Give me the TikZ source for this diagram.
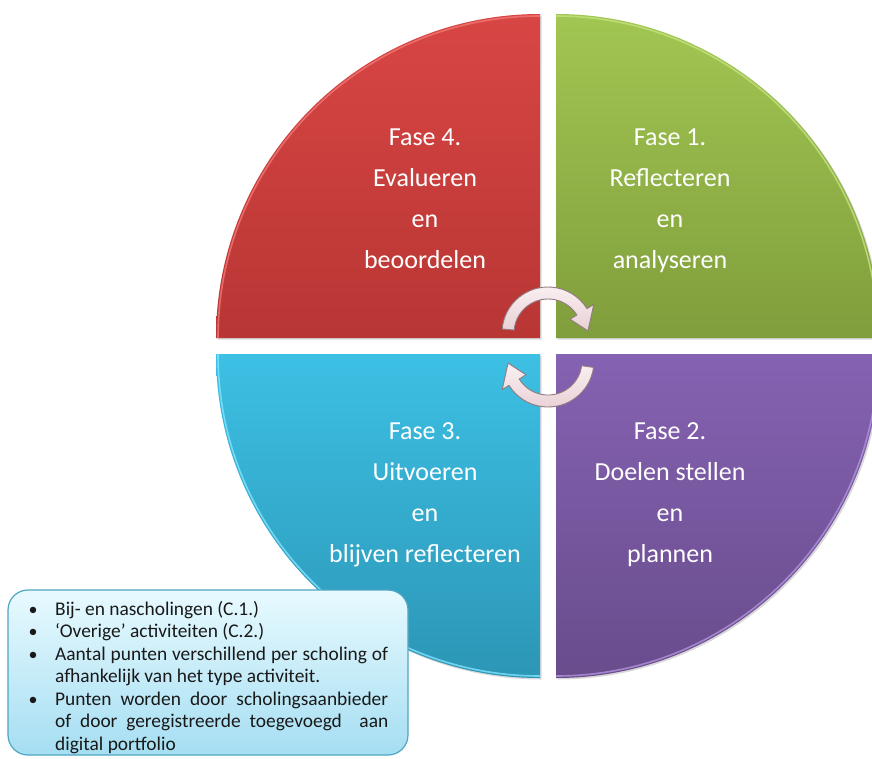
\documentclass[tikz,border=0pt]{standalone}
\usepackage{fontspec}
\setmainfont{Carlito}
\usetikzlibrary{shadows,calc}
\definecolor{redT}{RGB}{216,70,68}
\definecolor{redB}{RGB}{184,54,52}
\definecolor{redH}{RGB}{240,120,118}
\definecolor{grnT}{RGB}{162,198,82}
\definecolor{grnB}{RGB}{128,158,60}
\definecolor{grnH}{RGB}{196,226,128}
\definecolor{purT}{RGB}{134,98,178}
\definecolor{purB}{RGB}{104,76,140}
\definecolor{purH}{RGB}{178,148,220}
\definecolor{cyaT}{RGB}{60,192,228}
\definecolor{cyaB}{RGB}{44,150,182}
\definecolor{cyaH}{RGB}{130,228,252}
\definecolor{arrF}{RGB}{232,208,213}
\definecolor{arrL}{RGB}{250,240,242}
\definecolor{arrD}{RGB}{145,122,128}
\definecolor{boxT}{RGB}{232,250,255}
\definecolor{boxB}{RGB}{165,222,242}
\definecolor{boxD}{RGB}{80,165,195}
\definecolor{txtD}{RGB}{25,25,25}
\begin{document}
\begin{tikzpicture}[x=1pt,y=-1pt,
  quad/.style={draw=none, drop shadow={opacity=0.3, shadow xshift=1.5pt, shadow yshift=-1.5pt}},
  hilite/.style={line width=1.6pt, opacity=0.8},
  phase/.style={text=white, font=\fontsize{26}{30}\selectfont, anchor=base, inner sep=0pt},
  arrowshape/.style={top color=arrL, bottom color=arrF, draw=arrD, line width=0.9pt, line join=round},
  infobox/.style={rounded corners=20pt, top color=boxT, bottom color=boxB, draw=boxD, line width=1.2pt},
  btxt/.style={text=txtD, font=\fontsize{19.4}{22}\selectfont, anchor=base west, inner sep=0pt},
  bdot/.style={text=txtD, font=\fontsize{18}{22}\selectfont, anchor=base, inner sep=0pt}
]
\useasboundingbox (0,0) rectangle (872,758);
\clip (0,0) rectangle (872,758);
\fill[white] (0,0) rectangle (872,758);

% quadrants
\path[quad, top color=redT, bottom color=redB] (540,338) -- (216,338) arc[start angle=180, end angle=270, radius=324] -- cycle;
\path[quad, top color=grnT, bottom color=grnB] (556,338) -- (556,14) arc[start angle=270, end angle=360, radius=324] -- cycle;
\path[quad, top color=purT, bottom color=purB] (556,354) -- (880,354) arc[start angle=0, end angle=90, radius=324] -- cycle;
\path[quad, top color=cyaT, bottom color=cyaB] (540,354) -- (540,678) arc[start angle=90, end angle=180, radius=324] -- cycle;

% bevel highlights
\draw[hilite, redH] (218,338) arc[start angle=180, end angle=270, radius=322];
\draw[hilite, grnH] (556,16) arc[start angle=270, end angle=360, radius=322];
\draw[hilite, purH] (878,354) arc[start angle=0, end angle=90, radius=322];
\draw[hilite, cyaH] (540,676) arc[start angle=90, end angle=180, radius=322];

% circular arrows
\coordinate (U) at (548,333);
\coordinate (L) at (548,361);
\draw[arrowshape] ($(U)+(185:46)$) arc[start angle=185, end angle=328, radius=46]
  -- ($(U)+(328:54)$) -- ($(U)+(357:40)$) -- ($(U)+(328:26)$) -- ($(U)+(328:34)$)
  arc[start angle=328, end angle=185, radius=34] -- cycle;
\draw[arrowshape] ($(L)+(8:46)$) arc[start angle=8, end angle=148, radius=46]
  -- ($(L)+(148:54)$) -- ($(L)+(177:40)$) -- ($(L)+(148:26)$) -- ($(L)+(148:34)$)
  arc[start angle=148, end angle=8, radius=34] -- cycle;

% phase texts
\node[phase] (f4a) at (425,145) {Fase 4.};
\node[phase] (f4b) at (425,186) {Evalueren};
\node[phase] (f4c) at (425,227) {en};
\node[phase] (f4d) at (425,268) {beoordelen};
\node[phase] (f1a) at (670,145) {Fase 1.};
\node[phase] (f1b) at (670,186) {Reflecteren};
\node[phase] (f1c) at (670,227) {en};
\node[phase] (f1d) at (670,268) {analyseren};
\node[phase] (f2a) at (670,439) {Fase 2.};
\node[phase] (f2b) at (670,480) {Doelen stellen};
\node[phase] (f2c) at (670,521) {en};
\node[phase] (f2d) at (670,562) {plannen};
\node[phase] (f3a) at (425,439) {Fase 3.};
\node[phase] (f3b) at (425,480) {Uitvoeren};
\node[phase] (f3c) at (425,521) {en};
\node[phase] (f3d) at (425,562) {blijven reflecteren};

% info box
\path[infobox] (8,590) rectangle (408,755);
\node[bdot] (b1) at (33,615) {\textbullet};
\node[bdot] (b2) at (33,637.5) {\textbullet};
\node[bdot] (b3) at (33,660) {\textbullet};
\node[bdot] (b4) at (33,705) {\textbullet};
\node[btxt] (t1) at (55,615) {Bij- en nascholingen (C.1.)};
\node[btxt] (t2) at (55,637.5) {‘Overige’ activiteiten (C.2.)};
\node[btxt] (t3) at (55,660) {\makebox[333pt][s]{Aantal punten verschillend per scholing of}};
\node[btxt] (t4) at (55,682.5) {afhankelijk van het type activiteit.};
\node[btxt] (t5) at (55,705) {\makebox[333pt][s]{Punten worden door scholingsaanbieder}};
\node[btxt] (t6) at (55,727.5) {\makebox[333pt][s]{of door geregistreerde toegevoegd\ \ aan}};
\node[btxt] (t7) at (55,750) {digital portfolio};
\end{tikzpicture}
\end{document}
